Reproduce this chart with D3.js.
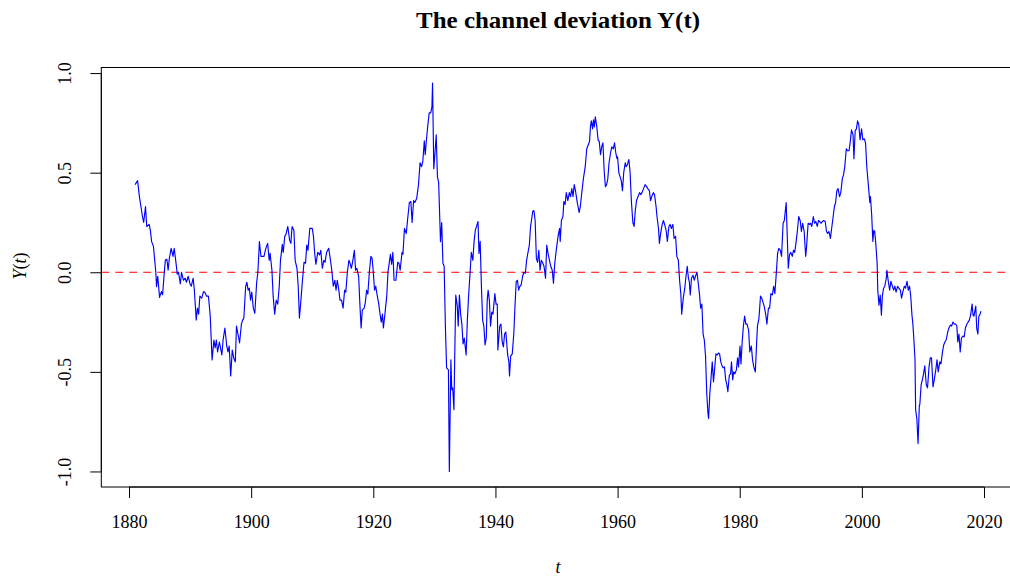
<!DOCTYPE html>
<html><head><meta charset="utf-8">
<script src="https://cdn.jsdelivr.net/npm/d3@7"></script>
<style>
html,body{margin:0;padding:0;background:#fff;}
svg{display:block;font-family:"Liberation Serif","DejaVu Serif",serif;}
</style></head>
<body><svg id="c" width="1010" height="578"></svg>
<script>
const titleText = "The channel deviation Y(t)";
const xTicks = [1880, 1900, 1920, 1940, 1960, 1980, 2000, 2020];
const yTicks = [-1.0, -0.5, 0.0, 0.5, 1.0];
const refLevel = 0;
// [year, Y(t)]
const obs = [
[1881.0,0.44],[1881.2,0.45],[1881.4,0.46],[1881.7,0.38],[1882.2,0.28],[1882.4,0.25],[1882.7,0.33],[1882.9,0.23],[1883.3,0.24],[1883.5,0.21],
[1883.7,0.154],[1884.0,0.13],[1884.15,0.08],[1884.4,-0.005],[1884.5,-0.072],[1884.7,-0.02],[1885.0,-0.126],[1885.3,-0.097],[1885.5,-0.113],[1885.7,-0.03],
[1885.95,0.062],[1886.2,0.065],[1886.4,0.01],[1886.6,0.07],[1886.9,0.12],[1887.2,0.08],[1887.4,0.12],[1887.7,0.045],[1887.9,-0.01],[1888.1,0.0],
[1888.4,-0.059],[1888.6,0.0],[1888.9,-0.04],[1889.2,-0.03],[1889.4,-0.05],[1889.7,-0.02],[1890.0,-0.06],[1890.2,-0.07],[1890.5,-0.03],[1890.7,-0.09],
[1891.0,-0.24],[1891.2,-0.18],[1891.4,-0.21],[1891.6,-0.12],[1891.9,-0.13],[1892.2,-0.097],[1892.4,-0.10],[1892.7,-0.12],[1893.0,-0.12],[1893.3,-0.22],
[1893.6,-0.44],[1893.9,-0.34],[1894.1,-0.38],[1894.3,-0.34],[1894.5,-0.40],[1894.8,-0.35],[1895.2,-0.415],[1895.4,-0.34],[1895.7,-0.28],[1896.0,-0.37],
[1896.2,-0.40],[1896.4,-0.37],[1896.65,-0.52],[1896.9,-0.39],[1897.15,-0.43],[1897.4,-0.45],[1897.6,-0.27],[1897.9,-0.32],[1898.1,-0.355],[1898.4,-0.26],
[1898.6,-0.24],[1898.8,-0.23],[1899.1,-0.07],[1899.3,-0.05],[1899.5,-0.09],[1899.7,-0.08],[1899.9,-0.14],[1900.1,-0.10],[1900.35,-0.18],[1900.6,-0.206],
[1900.9,-0.05],[1901.1,0.0],[1901.35,0.154],[1901.6,0.08],[1901.8,0.08],[1902.1,0.08],[1902.4,0.12],[1902.7,0.145],[1902.95,0.06],[1903.1,0.095],
[1903.4,0.01],[1903.6,-0.12],[1903.85,-0.21],[1904.1,-0.14],[1904.35,-0.16],[1904.6,-0.07],[1904.8,0.06],[1905.1,0.14],[1905.25,0.10],[1905.5,0.18],
[1905.7,0.19],[1906.0,0.23],[1906.3,0.16],[1906.5,0.145],[1906.7,0.23],[1907.0,0.21],[1907.2,0.06],[1907.5,0.02],[1907.7,-0.07],[1907.9,-0.23],
[1908.15,-0.14],[1908.4,-0.04],[1908.65,0.05],[1908.9,0.045],[1909.1,0.137],[1909.3,0.11],[1909.6,0.22],[1910.0,0.22],[1910.2,0.18],[1910.4,0.095],
[1910.6,0.04],[1910.9,0.10],[1911.2,0.087],[1911.4,0.11],[1911.65,0.02],[1911.9,0.06],[1912.1,0.05],[1912.35,0.10],[1912.7,0.12],[1912.9,0.08],
[1913.2,0.01],[1913.45,-0.07],[1913.7,-0.04],[1913.9,-0.09],[1914.1,-0.04],[1914.35,-0.09],[1914.55,-0.14],[1914.8,-0.14],[1915.05,-0.18],[1915.3,-0.09],
[1915.5,-0.10],[1915.75,0.0],[1916.0,0.06],[1916.2,0.045],[1916.4,0.02],[1916.6,0.05],[1916.9,0.11],[1917.1,0.01],[1917.3,0.02],[1917.6,-0.02],
[1917.8,-0.16],[1918.0,-0.28],[1918.2,-0.19],[1918.5,-0.18],[1918.7,-0.15],[1918.9,-0.09],[1919.1,-0.11],[1919.35,0.0],[1919.6,0.08],[1919.8,0.07],
[1920.0,0.0],[1920.2,-0.09],[1920.4,-0.07],[1920.6,-0.11],[1920.9,-0.16],[1921.1,-0.21],[1921.3,-0.25],[1921.5,-0.21],[1921.65,-0.28],[1921.9,-0.21],
[1922.2,-0.12],[1922.4,0.0],[1922.6,0.045],[1922.8,0.09],[1923.0,0.04],[1923.2,0.10],[1923.4,-0.04],[1923.7,-0.04],[1924.0,0.05],[1924.2,0.045],
[1924.4,0.01],[1924.7,0.10],[1924.85,0.09],[1925.1,0.22],[1925.4,0.195],[1925.6,0.26],[1925.9,0.35],[1926.15,0.355],[1926.35,0.25],[1926.6,0.36],
[1926.8,0.35],[1927.1,0.37],[1927.4,0.44],[1927.65,0.55],[1927.9,0.53],[1928.1,0.555],[1928.35,0.66],[1928.5,0.59],[1928.7,0.665],[1928.9,0.73],
[1929.15,0.80],[1929.4,0.80],[1929.6,0.83],[1929.7,0.95],[1929.9,0.52],[1930.1,0.60],[1930.3,0.69],[1930.5,0.48],[1930.7,0.45],[1931.0,0.154],
[1931.2,0.25],[1931.4,0.045],[1931.6,0.03],[1931.8,-0.27],[1932.0,-0.48],[1932.3,-0.49],[1932.45,-1.0],[1932.7,-0.44],[1932.85,-0.59],[1933.0,-0.58],
[1933.2,-0.69],[1933.35,-0.39],[1933.5,-0.114],[1933.75,-0.17],[1933.9,-0.27],[1934.1,-0.114],[1934.3,-0.21],[1934.5,-0.26],[1934.7,-0.36],[1934.9,-0.33],
[1935.2,-0.415],[1935.4,-0.24],[1935.6,-0.12],[1935.85,0.0],[1936.05,0.10],[1936.3,0.06],[1936.5,0.155],[1936.7,0.21],[1936.9,0.23],[1937.15,0.255],
[1937.3,0.095],[1937.5,0.155],[1937.7,-0.07],[1937.9,-0.24],[1938.1,-0.27],[1938.3,-0.365],[1938.5,-0.33],[1938.65,-0.14],[1938.8,-0.09],[1939.0,-0.14],
[1939.2,-0.27],[1939.4,-0.20],[1939.6,-0.21],[1939.9,-0.107],[1940.1,-0.16],[1940.3,-0.16],[1940.4,-0.39],[1940.7,-0.27],[1940.9,-0.26],[1941.1,-0.35],
[1941.3,-0.375],[1941.5,-0.31],[1941.7,-0.30],[1942.0,-0.415],[1942.2,-0.45],[1942.3,-0.52],[1942.5,-0.42],[1942.75,-0.41],[1943.0,-0.31],[1943.2,-0.17],
[1943.4,-0.047],[1943.6,-0.04],[1943.8,-0.09],[1944.0,-0.07],[1944.2,-0.065],[1944.45,-0.02],[1944.65,0.0],[1944.9,-0.005],[1945.1,0.06],[1945.3,0.095],
[1945.55,0.137],[1945.75,0.23],[1945.9,0.26],[1946.1,0.305],[1946.3,0.31],[1946.5,0.26],[1946.7,0.07],[1946.9,0.05],[1947.1,0.11],[1947.3,0.01],
[1947.5,0.06],[1947.7,0.05],[1947.95,0.03],[1948.2,-0.03],[1948.4,0.137],[1948.6,0.095],[1948.85,0.06],[1949.05,0.03],[1949.3,0.01],[1949.5,-0.055],
[1949.7,0.04],[1949.95,0.11],[1950.25,0.18],[1950.5,0.22],[1950.6,0.155],[1950.8,0.26],[1951.05,0.28],[1951.2,0.355],[1951.4,0.34],[1951.6,0.40],
[1951.85,0.36],[1952.1,0.40],[1952.3,0.38],[1952.5,0.42],[1952.7,0.38],[1952.9,0.44],[1953.1,0.41],[1953.4,0.35],[1953.7,0.30],[1953.9,0.33],
[1954.1,0.39],[1954.4,0.47],[1954.7,0.53],[1954.95,0.62],[1955.2,0.64],[1955.4,0.656],[1955.55,0.73],[1955.7,0.76],[1955.9,0.72],[1956.05,0.765],
[1956.2,0.73],[1956.35,0.78],[1956.6,0.73],[1956.8,0.665],[1957.0,0.656],[1957.2,0.59],[1957.4,0.63],[1957.6,0.65],[1957.8,0.51],[1958.0,0.43],
[1958.2,0.44],[1958.4,0.47],[1958.6,0.55],[1958.85,0.60],[1959.05,0.63],[1959.3,0.62],[1959.5,0.65],[1959.7,0.60],[1959.9,0.57],[1960.0,0.58],
[1960.2,0.50],[1960.4,0.48],[1960.6,0.46],[1960.8,0.41],[1961.0,0.50],[1961.25,0.55],[1961.4,0.53],[1961.6,0.54],[1961.85,0.566],[1962.05,0.50],
[1962.25,0.36],[1962.5,0.25],[1962.7,0.23],[1962.9,0.31],[1963.1,0.36],[1963.35,0.38],[1963.6,0.40],[1963.8,0.39],[1964.0,0.40],[1964.25,0.42],
[1964.5,0.44],[1964.75,0.43],[1964.95,0.42],[1965.2,0.41],[1965.4,0.36],[1965.6,0.38],[1965.85,0.40],[1966.05,0.39],[1966.3,0.33],[1966.45,0.28],
[1966.7,0.22],[1966.85,0.145],[1967.05,0.195],[1967.3,0.24],[1967.5,0.26],[1967.7,0.24],[1967.95,0.21],[1968.15,0.155],[1968.4,0.23],[1968.6,0.24],
[1968.8,0.22],[1969.05,0.24],[1969.25,0.17],[1969.5,0.18],[1969.7,0.08],[1969.95,0.06],[1970.15,-0.04],[1970.35,-0.107],[1970.5,-0.21],[1970.75,-0.13],
[1971.0,-0.08],[1971.2,-0.02],[1971.4,0.03],[1971.6,-0.03],[1971.75,-0.05],[1971.9,-0.114],[1972.1,-0.03],[1972.35,-0.015],[1972.55,-0.04],[1972.75,-0.02],
[1973.0,0.0],[1973.15,-0.04],[1973.4,-0.107],[1973.6,-0.18],[1973.8,-0.16],[1974.0,-0.31],[1974.2,-0.34],[1974.4,-0.42],[1974.6,-0.61],[1974.8,-0.71],
[1974.9,-0.734],[1975.1,-0.61],[1975.3,-0.53],[1975.5,-0.45],[1975.7,-0.55],[1975.85,-0.50],[1976.1,-0.41],[1976.3,-0.415],[1976.5,-0.405],[1976.7,-0.41],
[1976.9,-0.45],[1977.1,-0.47],[1977.3,-0.48],[1977.5,-0.475],[1977.7,-0.54],[1977.9,-0.565],[1978.05,-0.60],[1978.3,-0.516],[1978.5,-0.51],[1978.65,-0.45],
[1978.85,-0.54],[1979.0,-0.50],[1979.2,-0.51],[1979.45,-0.49],[1979.65,-0.43],[1979.8,-0.475],[1980.05,-0.37],[1980.2,-0.46],[1980.4,-0.35],[1980.6,-0.27],
[1980.8,-0.22],[1981.0,-0.26],[1981.2,-0.26],[1981.45,-0.29],[1981.65,-0.40],[1981.9,-0.37],[1982.1,-0.44],[1982.3,-0.475],[1982.55,-0.50],[1982.75,-0.365],
[1982.9,-0.27],[1983.15,-0.23],[1983.4,-0.12],[1983.6,-0.13],[1983.8,-0.15],[1984.0,-0.17],[1984.25,-0.21],[1984.45,-0.26],[1984.7,-0.18],[1984.9,-0.18],
[1985.1,-0.107],[1985.35,-0.114],[1985.55,-0.07],[1985.75,-0.107],[1986.0,0.0],[1986.2,0.095],[1986.4,0.12],[1986.65,0.11],[1986.85,0.08],[1987.1,0.246],
[1987.3,0.26],[1987.45,0.305],[1987.6,0.35],[1987.8,0.165],[1987.95,0.02],[1988.15,0.087],[1988.35,0.10],[1988.6,0.08],[1988.8,0.11],[1989.0,0.10],
[1989.2,0.145],[1989.45,0.21],[1989.65,0.28],[1989.9,0.26],[1990.1,0.205],[1990.3,0.246],[1990.55,0.205],[1990.8,0.08],[1990.95,0.13],[1991.2,0.246],
[1991.4,0.24],[1991.6,0.246],[1991.8,0.23],[1992.05,0.28],[1992.25,0.246],[1992.45,0.255],[1992.7,0.23],[1992.9,0.26],[1993.1,0.255],[1993.3,0.246],
[1993.55,0.255],[1993.75,0.26],[1994.0,0.255],[1994.2,0.205],[1994.4,0.195],[1994.6,0.205],[1994.85,0.17],[1995.05,0.22],[1995.3,0.28],[1995.5,0.33],
[1995.7,0.35],[1995.9,0.41],[1996.1,0.42],[1996.35,0.38],[1996.55,0.40],[1996.8,0.47],[1997.0,0.49],[1997.2,0.53],[1997.45,0.62],[1997.65,0.61],
[1997.9,0.61],[1998.1,0.656],[1998.3,0.715],[1998.55,0.69],[1998.7,0.57],[1998.9,0.71],[1999.1,0.72],[1999.3,0.76],[1999.5,0.74],[1999.7,0.665],
[1999.95,0.72],[2000.15,0.665],[2000.4,0.67],[2000.6,0.65],[2000.8,0.53],[2001.0,0.46],[2001.3,0.35],[2001.4,0.38],[2001.6,0.29],[2001.8,0.155],
[2001.95,0.21],[2002.1,0.205],[2002.25,0.155],[2002.5,0.045],[2002.6,-0.09],[2002.8,-0.165],[2003.0,-0.114],[2003.2,-0.215],[2003.35,-0.12],[2003.55,-0.08],
[2003.75,-0.07],[2004.0,-0.03],[2004.1,0.01],[2004.3,-0.04],[2004.55,-0.09],[2004.75,-0.045],[2005.0,-0.07],[2005.2,-0.09],[2005.4,-0.07],[2005.6,-0.10],
[2005.85,-0.07],[2006.05,-0.08],[2006.3,-0.09],[2006.5,-0.13],[2006.7,-0.10],[2006.95,-0.07],[2007.15,-0.08],[2007.4,-0.045],[2007.6,-0.09],[2007.8,-0.07],
[2008.0,-0.12],[2008.2,-0.215],[2008.35,-0.26],[2008.5,-0.33],[2008.7,-0.44],[2008.8,-0.69],[2009.0,-0.734],[2009.2,-0.86],[2009.4,-0.675],[2009.5,-0.66],
[2009.7,-0.565],[2009.9,-0.54],[2010.1,-0.51],[2010.3,-0.47],[2010.55,-0.565],[2010.75,-0.58],[2011.0,-0.475],[2011.2,-0.43],[2011.4,-0.43],[2011.65,-0.575],
[2011.85,-0.54],[2012.1,-0.49],[2012.3,-0.44],[2012.5,-0.50],[2012.75,-0.45],[2012.95,-0.46],[2013.2,-0.40],[2013.4,-0.365],[2013.6,-0.35],[2013.8,-0.34],
[2014.05,-0.30],[2014.25,-0.28],[2014.5,-0.265],[2014.7,-0.27],[2014.9,-0.25],[2015.15,-0.26],[2015.35,-0.26],[2015.55,-0.27],[2015.7,-0.35],[2015.9,-0.31],
[2016.1,-0.40],[2016.3,-0.33],[2016.55,-0.32],[2016.75,-0.325],[2016.95,-0.28],[2017.2,-0.26],[2017.4,-0.25],[2017.6,-0.24],[2017.8,-0.215],[2018.05,-0.16],
[2018.2,-0.215],[2018.35,-0.22],[2018.5,-0.195],[2018.65,-0.17],[2018.8,-0.28],[2019.0,-0.31],[2019.15,-0.22],[2019.3,-0.215],[2019.5,-0.195]
];
const years = obs.map(d => d[0]);
const values = obs.map(d => d[1]);

const svg = d3.select("#c");
const L = 101.3, R = 1014.8, T = 67.5, B = 487;
// R-style 4% padding of data range
const xr = d3.extent(years), yr = d3.extent(values);
const xp = (xr[1]-xr[0])*0.04, yp = (yr[1]-yr[0])*0.04;
const x = d3.scaleLinear().domain([xr[0]-xp, xr[1]+xp]).range([L, R]);
const y = d3.scaleLinear().domain([yr[0]-yp, yr[1]+yp]).range([B, T]);

svg.append("defs").append("clipPath").attr("id","clip")
  .append("rect").attr("x",L).attr("y",T).attr("width",R-L).attr("height",B-T);

// reference line
svg.append("line").attr("x1",L).attr("x2",R).attr("y1",y(refLevel)).attr("y2",y(refLevel))
  .attr("stroke","#ff0000").attr("stroke-width",1.1).attr("stroke-dasharray","8,6");

// series
const line = d3.line().x((d,i)=>x(years[i])).y((d,i)=>y(values[i]));
svg.append("path").datum(values).attr("clip-path","url(#clip)")
  .attr("d",line).attr("fill","none").attr("stroke","#0000ff").attr("stroke-width",1.15)
  .attr("stroke-linejoin","round");

// box
svg.append("rect").attr("x",L).attr("y",T).attr("width",R-L).attr("height",B-T)
  .attr("fill","none").attr("stroke","#000").attr("stroke-width",1);

// x axis
const gx = svg.append("g").attr("transform",`translate(0,${B})`)
  .call(d3.axisBottom(x).tickValues(xTicks).tickFormat(d3.format("d")).tickSize(11).tickPadding(17));
gx.select(".domain").attr("d",`M${x(xTicks[0])},0H${x(xTicks[xTicks.length-1])}`);
gx.selectAll("text").attr("font-size",18).attr("font-family","'Liberation Serif',serif").attr("fill","#000");

// y axis
const gy = svg.append("g").attr("transform",`translate(${L},0)`)
  .call(d3.axisLeft(y).tickValues(yTicks).tickFormat(d => d.toFixed(1)).tickSize(11));
gy.select(".domain").attr("d",`M0,${y(yTicks[0])}V${y(yTicks[yTicks.length-1])}`);
gy.selectAll("text").attr("font-size",18).attr("font-family","'Liberation Serif',serif").attr("fill","#000")
  .attr("transform","rotate(-90)").attr("x",0).attr("y",-30).attr("dy",0).attr("text-anchor","middle");

// title
svg.append("text").attr("x",(L+R)/2).attr("y",28).attr("text-anchor","middle")
  .attr("font-size",23).attr("font-weight","bold")
  .attr("textLength",284).attr("lengthAdjust","spacingAndGlyphs").text(titleText);

// x label
svg.append("text").attr("x",(L+R)/2).attr("y",573).attr("text-anchor","middle")
  .attr("font-size",18).attr("font-style","italic").text("t");

// y label
const yl = svg.append("text").attr("transform",`translate(26,266) rotate(-90)`).attr("text-anchor","middle")
  .attr("font-size",18);
yl.append("tspan").attr("font-style","italic").text("Y");
yl.append("tspan").text("(");
yl.append("tspan").attr("font-style","italic").text("t");
yl.append("tspan").text(")");
</script></body></html>
